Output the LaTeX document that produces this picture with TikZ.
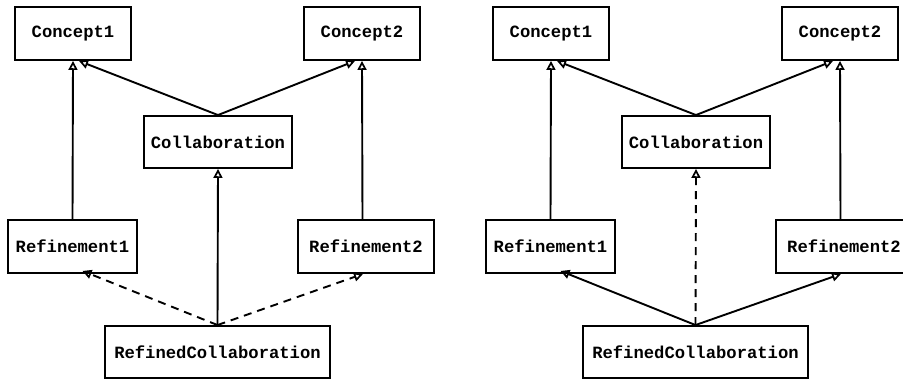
\documentclass[tikz,border=0pt]{standalone}
\usepackage{fontspec}
\setmonofont{Liberation Mono}
\usetikzlibrary{arrows.meta}
\tikzset{
  box/.style={draw, line width=1.9pt, inner sep=0pt, font=\fontsize{17.2}{20}\selectfont\ttfamily\bfseries},
  gen/.style={line width=1.9pt, -{Triangle[open, length=9pt, width=9pt, line width=1.7pt]}},
  dep/.style={gen, dash pattern=on 8pt off 6pt},
}
\begin{document}
\begin{tikzpicture}[x=1pt,y=-1pt]
\useasboundingbox (0,0) rectangle (903,380);
\clip (0,0) rectangle (903,380);
% ---------- left diagram ----------
\node[box, minimum width=116pt, minimum height=53pt] (c1a) at (73,33.5) {Concept1};
\node[box, minimum width=116pt, minimum height=53pt] (c2a) at (362,33.5) {Concept2};
\node[box, minimum width=148pt, minimum height=52pt] (cola) at (218,142) {Collaboration};
\node[box, minimum width=129pt, minimum height=53pt] (r1a) at (72.5,246.5) {Refinement1};
\node[box, minimum width=136pt, minimum height=53pt] (r2a) at (366,246.5) {Refinement2};
\node[box, minimum width=225pt, minimum height=52pt] (rca) at (217.5,352) {RefinedCollaboration};
\draw[gen] (r1a.north) -- (c1a.south);
\draw[gen] ([xshift=-3.5pt]r2a.north) -- ([xshift=0pt]c2a.south);
\draw[gen] (cola.north) -- ([xshift=6pt]c1a.south);
\draw[gen] (cola.north) -- ([xshift=-7pt]c2a.south);
\draw[gen] (rca.north) -- (cola.south);
\draw[dep] (rca.north) -- ([xshift=10pt,yshift=3pt]r1a.south);
\draw[dep] (rca.north) -- ([xshift=-3pt]r2a.south);
% ---------- right diagram ----------
\begin{scope}[xshift=478pt]
\node[box, minimum width=116pt, minimum height=53pt] (c1b) at (73,33.5) {Concept1};
\node[box, minimum width=116pt, minimum height=53pt] (c2b) at (362,33.5) {Concept2};
\node[box, minimum width=148pt, minimum height=52pt] (colb) at (218,142) {Collaboration};
\node[box, minimum width=129pt, minimum height=53pt] (r1b) at (72.5,246.5) {Refinement1};
\node[box, minimum width=136pt, minimum height=53pt] (r2b) at (366,246.5) {Refinement2};
\node[box, minimum width=225pt, minimum height=52pt] (rcb) at (217.5,352) {RefinedCollaboration};
\draw[gen] (r1b.north) -- (c1b.south);
\draw[gen] ([xshift=-3.5pt]r2b.north) -- ([xshift=0pt]c2b.south);
\draw[gen] (colb.north) -- ([xshift=6pt]c1b.south);
\draw[gen] (colb.north) -- ([xshift=-7pt]c2b.south);
\draw[dep] (rcb.north) -- (colb.south);
\draw[gen] (rcb.north) -- ([xshift=10pt,yshift=3pt]r1b.south);
\draw[gen] (rcb.north) -- ([xshift=-3pt]r2b.south);
\end{scope}
\end{tikzpicture}
\end{document}
